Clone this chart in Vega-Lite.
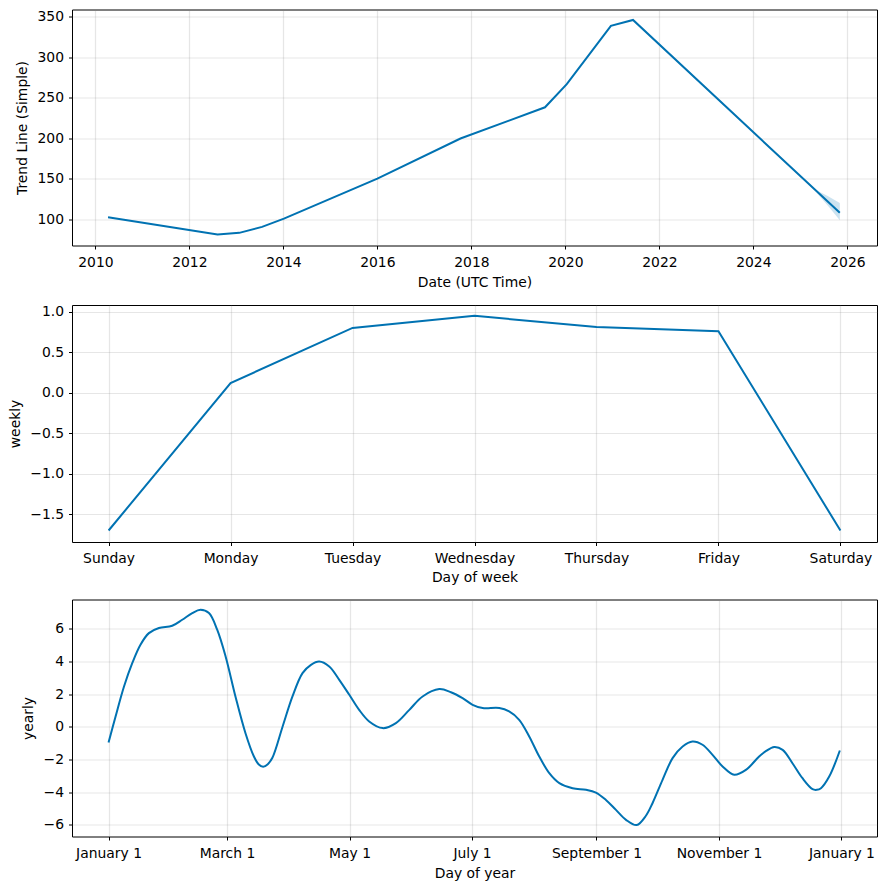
{
  "$schema": "https://vega.github.io/schema/vega-lite/v6.json",
  "padding": {"left": 7, "top": 8.5, "right": 8, "bottom": 0},
  "spacing": 13.5,
  "config": {
    "font": "DejaVu Sans",
    "view": {"stroke": "black", "strokeWidth": 1},
    "axis": {
      "labelFont": "DejaVu Sans", "labelFontSize": 13.9, "labelColor": "black",
      "titleFont": "DejaVu Sans", "titleFontSize": 13.9, "titleFontWeight": "normal", "titleColor": "black",
      "tickColor": "black", "tickSize": 3.5, "tickWidth": 1, "domain": false,
      "gridColor": "#808080", "gridOpacity": 0.2, "gridWidth": 1.2, "grid": true
    },
    "axisX": {"titlePadding": 7, "labelPadding": 6, "labelAngle": 0},
    "axisY": {"titlePadding": 7.5, "labelPadding": 5}
  },
  "datasets": {
    "trend": [
      {"date": "2010-04-09", "trend": 102.8},
      {"date": "2012-08-07", "trend": 81.5},
      {"date": "2013-01-23", "trend": 83.5},
      {"date": "2013-07-19", "trend": 90.9},
      {"date": "2014-01-05", "trend": 101.0},
      {"date": "2016-01-01", "trend": 150.4},
      {"date": "2017-10-08", "trend": 200.0},
      {"date": "2019-07-27", "trend": 238.5},
      {"date": "2020-01-12", "trend": 267.0},
      {"date": "2020-12-20", "trend": 339.0},
      {"date": "2021-06-10", "trend": 346.3},
      {"date": "2025-11-03", "trend": 108.2}
    ],
    "band": [
      {"date": "2025-04-08", "lower": 139.1, "upper": 139.1},
      {"date": "2025-06-01", "lower": 128.5, "upper": 134.0},
      {"date": "2025-08-01", "lower": 117.4, "upper": 129.0},
      {"date": "2025-11-03", "lower": 99.1, "upper": 120.5}
    ],
    "weekly": [
      {"day": "Sunday", "weekly": -1.70},
      {"day": "Monday", "weekly": 0.12},
      {"day": "Tuesday", "weekly": 0.80},
      {"day": "Wednesday", "weekly": 0.95},
      {"day": "Thursday", "weekly": 0.81},
      {"day": "Friday", "weekly": 0.76},
      {"day": "Saturday", "weekly": -1.70}
    ],
    "yearly": [
      {"doy": 0, "yearly": -0.96},
      {"doy": 3.5, "yearly": 0.63},
      {"doy": 7.7, "yearly": 2.47},
      {"doy": 11.8, "yearly": 3.9},
      {"doy": 15.9, "yearly": 5.03},
      {"doy": 20.1, "yearly": 5.74},
      {"doy": 25.1, "yearly": 6.05},
      {"doy": 31.7, "yearly": 6.19},
      {"doy": 36.7, "yearly": 6.56},
      {"doy": 41.7, "yearly": 6.97},
      {"doy": 45.8, "yearly": 7.17},
      {"doy": 50, "yearly": 6.97},
      {"doy": 54.1, "yearly": 5.95},
      {"doy": 58.3, "yearly": 4.31},
      {"doy": 63.2, "yearly": 1.86},
      {"doy": 68.2, "yearly": -0.39},
      {"doy": 72.4, "yearly": -1.82},
      {"doy": 74.7, "yearly": -2.29},
      {"doy": 77, "yearly": -2.45},
      {"doy": 79.3, "yearly": -2.29},
      {"doy": 81.6, "yearly": -1.9},
      {"doy": 86.7, "yearly": 0.02},
      {"doy": 91.6, "yearly": 1.86},
      {"doy": 96.6, "yearly": 3.29},
      {"doy": 100.8, "yearly": 3.8},
      {"doy": 104.9, "yearly": 4.0},
      {"doy": 109.9, "yearly": 3.7},
      {"doy": 114.9, "yearly": 2.88},
      {"doy": 119.9, "yearly": 1.96},
      {"doy": 124.8, "yearly": 1.04},
      {"doy": 129.8, "yearly": 0.33},
      {"doy": 136.5, "yearly": -0.08},
      {"doy": 143.1, "yearly": 0.23},
      {"doy": 149.8, "yearly": 1.04},
      {"doy": 156.4, "yearly": 1.86},
      {"doy": 164.7, "yearly": 2.31},
      {"doy": 170.5, "yearly": 2.12},
      {"doy": 176.3, "yearly": 1.76},
      {"doy": 181.3, "yearly": 1.35},
      {"doy": 186.3, "yearly": 1.15},
      {"doy": 194.6, "yearly": 1.15},
      {"doy": 199.5, "yearly": 0.94},
      {"doy": 204.5, "yearly": 0.43},
      {"doy": 209.5, "yearly": -0.59},
      {"doy": 214.5, "yearly": -1.82},
      {"doy": 219.5, "yearly": -2.84},
      {"doy": 224.5, "yearly": -3.45},
      {"doy": 231.1, "yearly": -3.76},
      {"doy": 237.8, "yearly": -3.86},
      {"doy": 242.7, "yearly": -4.03},
      {"doy": 247.7, "yearly": -4.48},
      {"doy": 252.7, "yearly": -5.09},
      {"doy": 257.7, "yearly": -5.7},
      {"doy": 263, "yearly": -6.02},
      {"doy": 267.6, "yearly": -5.45},
      {"doy": 270.9, "yearly": -4.68},
      {"doy": 275.9, "yearly": -3.25},
      {"doy": 280.9, "yearly": -1.92},
      {"doy": 285.9, "yearly": -1.21},
      {"doy": 290.8, "yearly": -0.9},
      {"doy": 295.8, "yearly": -1.1},
      {"doy": 300.8, "yearly": -1.72},
      {"doy": 305.8, "yearly": -2.43},
      {"doy": 311.6, "yearly": -2.94},
      {"doy": 317.4, "yearly": -2.64},
      {"doy": 324, "yearly": -1.82},
      {"doy": 327.5, "yearly": -1.48},
      {"doy": 331.5, "yearly": -1.24},
      {"doy": 335.7, "yearly": -1.41},
      {"doy": 340.6, "yearly": -2.23},
      {"doy": 345.6, "yearly": -3.15},
      {"doy": 350.6, "yearly": -3.82},
      {"doy": 352.7, "yearly": -3.86},
      {"doy": 354.8, "yearly": -3.76},
      {"doy": 358.9, "yearly": -3.05},
      {"doy": 364.2, "yearly": -1.45}
    ]
  },
  "vconcat": [
    {
      "width": 805, "height": 236,
      "layer": [
        {
          "data": {"name": "band"},
          "mark": {"type": "area", "color": "#0072B2", "opacity": 0.2},
          "encoding": {
            "x": {"field": "date", "type": "temporal"},
            "y": {"field": "lower", "type": "quantitative"},
            "y2": {"field": "upper"}
          }
        },
        {
          "data": {"name": "trend"},
          "mark": {"type": "line", "color": "#0072B2", "strokeWidth": 2},
          "encoding": {
            "x": {
              "field": "date", "type": "temporal",
              "scale": {"type": "utc", "domain": [{"year": 2009, "month": 7, "date": 3, "utc": true}, {"year": 2026, "month": 8, "date": 19, "utc": true}]},
              "axis": {
                "title": "Date (UTC Time)", "format": "%Y",
                "values": [{"year": 2010, "utc": true}, {"year": 2012, "utc": true}, {"year": 2014, "utc": true}, {"year": 2016, "utc": true}, {"year": 2018, "utc": true}, {"year": 2020, "utc": true}, {"year": 2022, "utc": true}, {"year": 2024, "utc": true}, {"year": 2026, "utc": true}]
              }
            },
            "y": {
              "field": "trend", "type": "quantitative",
              "scale": {"domain": [67.9, 359.2], "nice": false, "zero": false},
              "axis": {"title": "Trend Line (Simple)", "values": [100, 150, 200, 250, 300, 350]}
            }
          }
        }
      ]
    },
    {
      "width": 805, "height": 237,
      "data": {"name": "weekly"},
      "mark": {"type": "line", "color": "#0072B2", "strokeWidth": 2},
      "encoding": {
        "x": {
          "field": "day", "type": "nominal",
          "sort": ["Sunday", "Monday", "Tuesday", "Wednesday", "Thursday", "Friday", "Saturday"],
          "scale": {"type": "point", "padding": 0.3},
          "axis": {"title": "Day of week", "grid": true, "titlePadding": 5}
        },
        "y": {
          "field": "weekly", "type": "quantitative",
          "scale": {"domain": [-1.842, 1.083], "nice": false, "zero": false},
          "axis": {"title": "weekly", "values": [-1.5, -1, -0.5, 0, 0.5, 1], "format": ".1f"}
        }
      }
    },
    {
      "width": 805, "height": 237,
      "data": {"name": "yearly"},
      "mark": {"type": "line", "color": "#0072B2", "strokeWidth": 2, "interpolate": "catmull-rom"},
      "encoding": {
        "x": {
          "field": "doy", "type": "quantitative",
          "scale": {"domain": [-18.2, 382.7], "nice": false, "zero": false},
          "axis": {
            "title": "Day of year",
            "values": [0, 59, 120, 181, 243, 304, 365],
            "labelExpr": "datum.value == 0 || datum.value == 365 ? 'January 1' : datum.value == 59 ? 'March 1' : datum.value == 120 ? 'May 1' : datum.value == 181 ? 'July 1' : datum.value == 243 ? 'September 1' : 'November 1'"
          }
        },
        "y": {
          "field": "yearly", "type": "quantitative",
          "scale": {"domain": [-6.72, 7.8], "nice": false, "zero": false},
          "axis": {"title": "yearly", "values": [-6, -4, -2, 0, 2, 4, 6], "format": "d"}
        }
      }
    }
  ]
}
